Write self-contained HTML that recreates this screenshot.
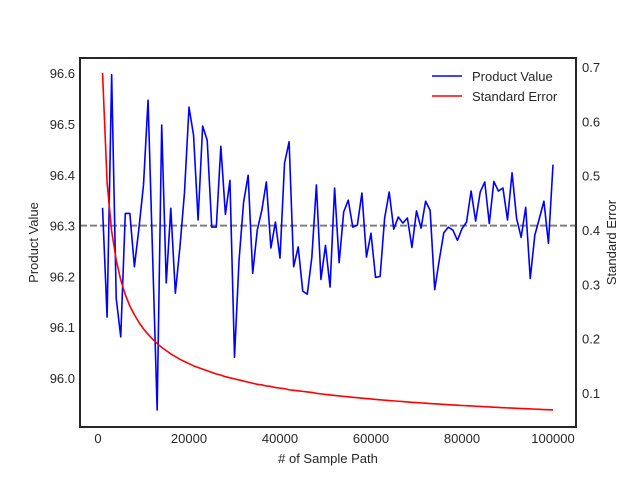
<!DOCTYPE html>
<html><head><meta charset="utf-8"><style>
body{margin:0;background:#fff}
svg text{font-family:"Liberation Sans",Arial,sans-serif;fill:#262626}
</style></head><body>
<svg id="chart" width="640" height="480" xmlns="http://www.w3.org/2000/svg"></svg>
<script>
const samplePaths = [];
for (let i = 1; i <= 100; i++) samplePaths.push(i * 1000);
const productValues = [96.335,96.120,96.597,96.157,96.081,96.324,96.324,96.219,96.295,96.380,96.547,96.242,95.937,96.498,96.187,96.334,96.167,96.257,96.364,96.533,96.478,96.311,96.496,96.468,96.297,96.297,96.456,96.322,96.389,96.041,96.232,96.346,96.399,96.206,96.291,96.330,96.386,96.256,96.307,96.236,96.423,96.465,96.219,96.258,96.171,96.165,96.238,96.380,96.194,96.261,96.179,96.374,96.227,96.327,96.350,96.297,96.301,96.364,96.238,96.285,96.198,96.200,96.315,96.366,96.293,96.317,96.305,96.315,96.257,96.329,96.295,96.348,96.330,96.174,96.232,96.286,96.297,96.291,96.271,96.294,96.307,96.368,96.309,96.366,96.386,96.304,96.387,96.368,96.374,96.311,96.404,96.314,96.277,96.336,96.196,96.281,96.314,96.348,96.265,96.420];
const standardErrors = [0.689,0.487,0.398,0.345,0.308,0.281,0.260,0.244,0.230,0.218,0.208,0.199,0.191,0.184,0.178,0.172,0.167,0.162,0.158,0.154,0.150,0.147,0.144,0.141,0.138,0.135,0.133,0.130,0.128,0.126,0.124,0.122,0.120,0.118,0.116,0.115,0.113,0.112,0.110,0.109,0.108,0.106,0.105,0.104,0.103,0.102,0.101,0.0995,0.0984,0.0974,0.0965,0.0955,0.0946,0.0938,0.0929,0.0921,0.0913,0.0905,0.0897,0.0890,0.0882,0.0875,0.0868,0.0861,0.0855,0.0848,0.0842,0.0836,0.0829,0.0824,0.0818,0.0812,0.0806,0.0801,0.0796,0.0790,0.0785,0.0780,0.0775,0.0770,0.0766,0.0761,0.0756,0.0752,0.0747,0.0743,0.0739,0.0734,0.0730,0.0726,0.0722,0.0718,0.0714,0.0711,0.0707,0.0703,0.0700,0.0696,0.0692,0.0689];
const referenceValue = 96.3;
const xTicks = [0,20000,40000,60000,80000,100000];
const yLeftTicks = [96.0,96.1,96.2,96.3,96.4,96.5,96.6];
const yRightTicks = [0.1,0.2,0.3,0.4,0.5,0.6,0.7];

const svg = document.getElementById('chart');
const NS = 'http://www.w3.org/2000/svg';
const L = 80, R = 576, T = 58, B = 427;
const xS = v => 98 + v * (553 - 98) / 100000;
const yL = v => 378 - (v - 96.0) * 508;
const yR = v => 393 - (v - 0.1) * 543.3;
function mk(tag, attrs, parent) {
  const e = document.createElementNS(NS, tag);
  for (const k in attrs) e.setAttribute(k, attrs[k]);
  (parent || svg).appendChild(e);
  return e;
}
function txt(s, x, y, anchor, size, parent) {
  const t = mk('text', {x: x, y: y, 'text-anchor': anchor, 'font-size': size}, parent);
  t.textContent = s;
  return t;
}
xTicks.forEach(v => {
  const t = txt(String(v), xS(v), 443, 'middle', 13);
  
  
});
yLeftTicks.forEach(v => {
  const t = txt(v.toFixed(1), 75, yL(v) + 5, 'end', 13);
  
  
});
yRightTicks.forEach(v => {
  const t = txt(v.toFixed(1), 582, yR(v) + 5, 'start', 13);
  
  
});
const ref = mk('line', {x1: L, x2: R, y1: yL(referenceValue), y2: yL(referenceValue), stroke: '#808080', 'stroke-width': 2, 'stroke-dasharray': '7,3'});


const pv = mk('polyline', {points: samplePaths.map((x, i) => xS(x) + ',' + yL(productValues[i])).join(' '), fill: 'none', stroke: '#0000ff', 'stroke-width': 1.6, 'stroke-linejoin': 'round'});


const se = mk('polyline', {points: samplePaths.map((x, i) => xS(x) + ',' + yR(standardErrors[i])).join(' '), fill: 'none', stroke: '#ff0000', 'stroke-width': 1.6, 'stroke-linejoin': 'round'});


const fr = mk('rect', {x: L, y: T, width: R - L, height: B - T, fill: 'none', stroke: '#262626', 'stroke-width': 2});


const xt = txt('# of Sample Path', (L + R) / 2, 463, 'middle', 13);


const yt = txt('Product Value', 0, 0, 'middle', 13);
yt.setAttribute('transform', 'translate(38,' + (T + B) / 2 + ') rotate(-90)');


const yt2 = txt('Standard Error', 0, 0, 'middle', 13);
yt2.setAttribute('transform', 'translate(616,' + (T + B) / 2 + ') rotate(-90)');


const lg = mk('g', {});


[['Product Value', '#0000ff', 76], ['Standard Error', '#ff0000', 96]].forEach(([n, c, y]) => {
  const g = mk('g', {}, lg);
  
  
  mk('line', {x1: 432, x2: 462, y1: y, y2: y, stroke: c, 'stroke-width': 1.6}, g);
  txt(n, 472, y + 5, 'start', 13, g);
});
</script>
</body></html>
